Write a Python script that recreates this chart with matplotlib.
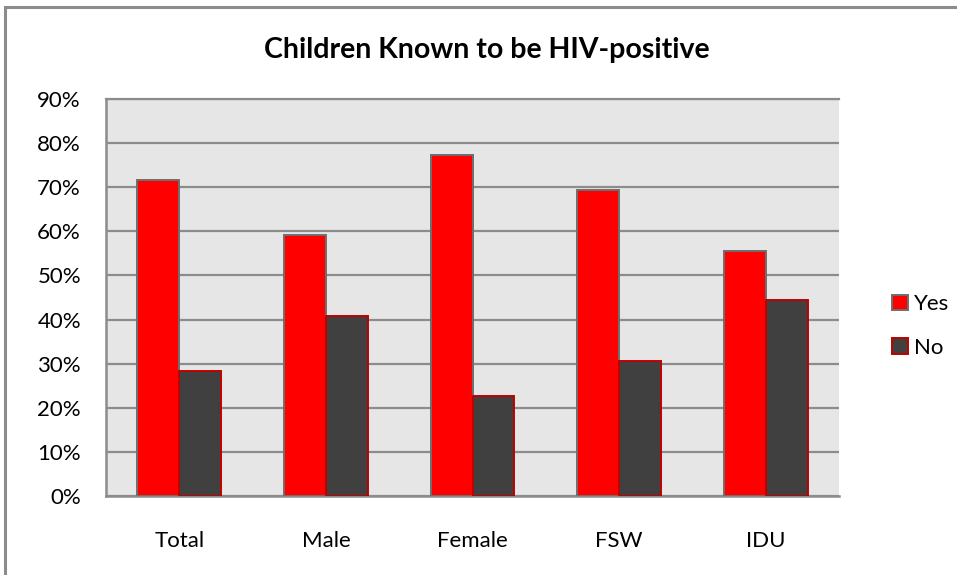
import matplotlib
matplotlib.use("Agg")
import matplotlib.pyplot as plt
import numpy as np
from matplotlib.patches import Rectangle

categories = ["Total", "Male", "Female", "FSW", "IDU"]
yes_vals = [71.7, 59.2, 77.3, 69.4, 55.6]
no_vals = [28.3, 40.8, 22.7, 30.6, 44.4]
yticks = list(range(0, 91, 10))
ytick_labels = [f"{v}%" for v in yticks]

plt.rcParams['font.family'] = ['Lato', 'DejaVu Sans']

fig = plt.figure(figsize=(9.57, 5.75), dpi=100)
fig.patch.set_facecolor("white")
# outer chart border (only top/left visible in the reference)
fig.add_artist(Rectangle((5/957, -0.1), 1.2, 1 - 7/575 + 0.1, transform=fig.transFigure,
                         fill=False, edgecolor="#8c8c8c", linewidth=2.2))

ax = fig.add_axes([106/957, 1 - 496/575, (839 - 106)/957, (496 - 99)/575])
ax.set_facecolor("#e6e6e6")

x = np.arange(len(categories))
w = 0.2857
ax.bar(x - w/2, yes_vals, w, color="#ff0000", edgecolor="#6e6e6e", linewidth=1.4,
       label="Yes", zorder=3)
ax.bar(x + w/2, no_vals, w, color="#404040", edgecolor="#c00000", linewidth=1.4,
       label="No", zorder=3)

ax.set_xlim(-0.5, len(categories) - 0.5)
ax.set_ylim(0, 90)
ax.set_yticks(yticks)
ax.set_yticklabels(ytick_labels)
ax.set_xticks(x)
ax.set_xticklabels(categories)
ax.yaxis.grid(True, color="#8c8c8c", linewidth=1.6, zorder=1)
ax.set_axisbelow(True)
ax.spines["right"].set_visible(False)
ax.spines["top"].set_color("#8c8c8c")
ax.spines["top"].set_linewidth(1.6)
ax.spines["left"].set_color("#8c8c8c")
ax.spines["left"].set_linewidth(1.8)
ax.spines["bottom"].set_color("#8c8c8c")
ax.spines["bottom"].set_linewidth(1.8)
ax.tick_params(axis="y", length=0, pad=18, labelsize=16, labelcolor="black")
ax.tick_params(axis="x", length=0, pad=25, labelsize=16, labelcolor="black")

fig.text(487/957, 1 - 50/575, "Children Known to be HIV-positive", ha="center", va="center",
         fontsize=20.5, fontweight="bold")

leg = fig.legend(loc="center left", bbox_to_anchor=(872/957, 1 - 326/575), frameon=False,
                 fontsize=16, handlelength=0.7, handleheight=0.7, handletextpad=0.3,
                 labelspacing=1.05)

fig.savefig("out.png", dpi=100)
